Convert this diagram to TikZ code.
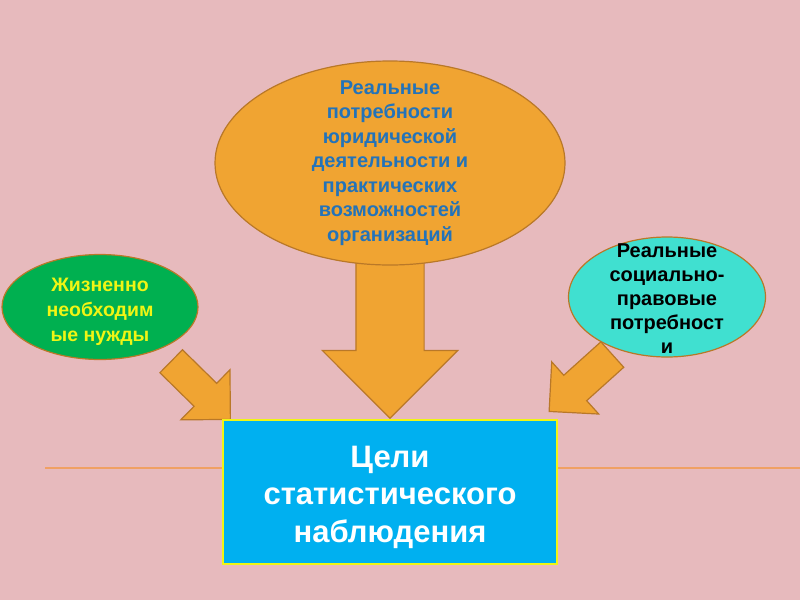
\documentclass[tikz,border=0pt]{standalone}
\usepackage{fontspec}
\setmainfont{Liberation Sans}
\usetikzlibrary{shapes.geometric, shapes.arrows}
\definecolor{bgpink}{RGB}{231,186,189}
\definecolor{arrowfill}{RGB}{240,164,50}
\definecolor{arrowline}{RGB}{185,120,40}
\definecolor{leafgreen}{RGB}{0,176,80}
\definecolor{aqua}{RGB}{64,224,208}
\definecolor{skyblue}{RGB}{0,176,240}
\definecolor{textblue}{RGB}{35,115,185}
\definecolor{textyellow}{RGB}{240,245,20}
\definecolor{rulecolor}{RGB}{240,160,100}
\tikzset{
  bloc/.style={single arrow, anchor=tip, fill=arrowfill, draw=arrowline, line width=1.2pt,
    inner xsep=0pt, single arrow tip angle=90},
  oval/.style={ellipse, draw=arrowline, line width=1.2pt, inner sep=0pt},
  txt/.style={align=center, font=\bfseries\fontsize{20}{24.5}\selectfont}
}
\begin{document}
\begin{tikzpicture}[x=1pt, y=-1pt]
    \fill[bgpink] (0,0) rectangle (800,600);
    \useasboundingbox (0,0) rectangle (800,600);
    \draw[rulecolor, line width=1.5pt] (45,468) -- (800,468);
    \node[bloc, rotate=-90, minimum height=157pt, inner ysep=33.5pt, single arrow head extend=33.5pt] (arrTop) at (390,419) {};
    \node[bloc, rotate=-44.5, minimum height=83pt, inner ysep=15.5pt, single arrow head extend=19pt] (arrLeft) at (231,420) {};
    \node[bloc, rotate=222, minimum height=85pt, inner ysep=16.5pt, single arrow head extend=18pt] (arrRight) at (548.5,412) {};
    \node[oval, fill=arrowfill, minimum width=350pt, minimum height=204pt] (ellTop) at (390,163) {};
    \node[oval, fill=leafgreen, minimum width=196pt, minimum height=105pt] (ellLeft) at (100,307) {};
    \node[oval, fill=aqua, minimum width=197pt, minimum height=120pt] (ellRight) at (667,297) {};
    \node[draw=textyellow, line width=2pt, fill=skyblue, minimum width=334pt, minimum height=144pt] (goal) at (390,492) {};
    \node[txt, text=textblue] (lblTop) at (ellTop.center) {Реальные\\потребности\\юридической\\деятельности и\\практических\\возможностей\\организаций};
    \node[txt, text=textyellow, font=\bfseries\fontsize{19.5}{25}\selectfont] (lblLeft) at (100,312) {Жизненно\\необходим\\ые нужды};
    \node[txt, text=black, font=\bfseries\fontsize{20}{24}\selectfont] (lblRight) at (667,299) {Реальные\\социально-\\правовые\\потребност\\и};
    \node[txt, text=white, font=\bfseries\fontsize{31}{37.5}\selectfont] (lblGoal) at (390,497) {Цели\\статистического\\наблюдения};
\end{tikzpicture}
\end{document}
